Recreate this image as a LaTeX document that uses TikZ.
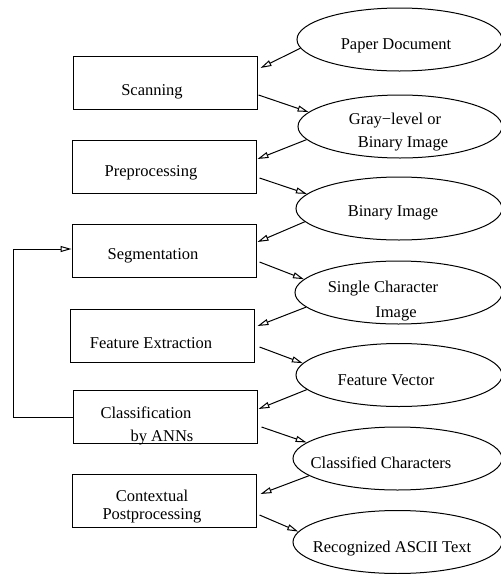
\documentclass[tikz,border=0pt]{standalone}
\usepackage{fontspec}
\setmainfont{Liberation Serif}
\usetikzlibrary{shapes.geometric,arrows.meta}
\begin{document}
\begin{tikzpicture}[x=1pt,y=-1pt,
  stage/.style={draw,line width=1pt,minimum width=184pt,minimum height=53pt,inner sep=0pt},
  data/.style={draw,ellipse,line width=1pt,minimum height=63pt,inner sep=0pt},
  lbl/.style={font=\fontsize{16.5}{20}\selectfont,inner sep=0pt,text height=11pt,text depth=0pt},
  arr/.style={line width=1pt,-{Triangle[open,length=11pt,width=6pt]}}]
\useasboundingbox (0,0) rectangle (501,574);

% processing stages
\node[stage] (b1) at (165,82.5) {};
\node[stage] (b2) at (164,166.5) {};
\node[stage] (b3) at (164,250.5) {};
\node[stage] (b4) at (162,335.5) {};
\node[stage] (b5) at (165,417) {};
\node[stage] (b6) at (164,501) {};

\node[lbl] (t1) at (152,90) {Scanning};
\node[lbl] (t2) at (151,171) {Preprocessing};
\node[lbl] (t3) at (153,254) {Segmentation};
\node[lbl] (t4) at (151,343) {Feature Extraction};
\node[lbl] (t5a) at (146,413) {Classification};
\node[lbl] (t5b) at (162,436) {by ANNs};
\node[lbl] (t6a) at (152,496) {Contextual};
\node[lbl] (t6b) at (152,514) {Postprocessing};

% intermediate data
\node[data,minimum width=205pt] (e1) at (399.5,39.5) {};
\node[data,minimum width=204pt] (e2) at (400,126.5) {};
\node[data,minimum width=206pt] (e3) at (399,208.5) {};
\node[data,minimum width=207pt] (e4) at (398.5,292.5) {};
\node[data,minimum width=206pt] (e5) at (399,375) {};
\node[data,minimum width=209pt] (e6) at (397.5,458.5) {};
\node[data,minimum width=209pt] (e7) at (397.5,542) {};

\node[lbl] (u1) at (396,44) {Paper Document};
\node[lbl] (u2a) at (395,119) {Gray−level or};
\node[lbl] (u2b) at (403,142) {Binary Image};
\node[lbl] (u3) at (393,211) {Binary Image};
\node[lbl] (u4a) at (383,287) {Single Character};
\node[lbl] (u4b) at (396,312) {Image};
\node[lbl] (u5) at (386,380) {Feature Vector};
\node[lbl] (u6) at (381,463) {Classified Characters};
\node[lbl] (u7) at (392,547) {Recognized ASCII Text};

% data flow
\draw[arr] (e1.185) -- ([xshift=3pt,yshift=14.5pt]b1.east);
\draw[arr] ([xshift=1pt,yshift=-12.5pt]b1.east) -- (e2.171);
\draw[arr] (e2.188) -- ([xshift=1pt,yshift=7.5pt]b2.east);
\draw[arr] ([xshift=3pt,yshift=-11.5pt]b2.east) -- (e3.171);
\draw[arr] (e3.188) -- ([xshift=1pt,yshift=8.5pt]b3.east);
\draw[arr] ([xshift=3pt,yshift=-11.5pt]b3.east) -- (e4.172);
\draw[arr] (e4.189) -- ([xshift=3pt,yshift=9.5pt]b4.east);
\draw[arr] ([xshift=5pt,yshift=-11.5pt]b4.east) -- (e5.173);
\draw[arr] (e5.189) -- ([xshift=1pt,yshift=8pt]b5.east);
\draw[arr] ([xshift=4pt,yshift=-10pt]b5.east) -- (e6.170);
\draw[arr] (e6.191) -- ([xshift=4pt,yshift=7pt]b6.east);
\draw[arr] ([xshift=3pt,yshift=-14pt]b6.east) -- (e7.174);

% feedback loop
\draw[arr] (b5.west) -- ++(-59pt,0) |- ([yshift=1.5pt]b3.west);
\end{tikzpicture}
\end{document}
